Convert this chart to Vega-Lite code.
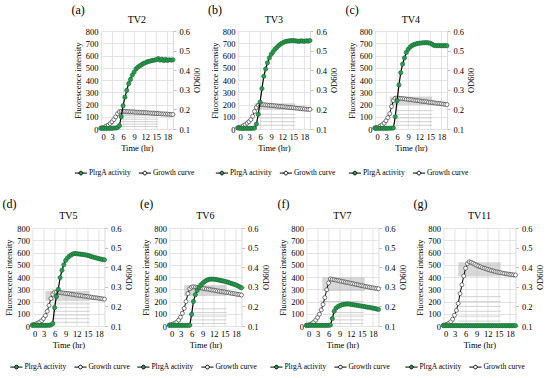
{
"$schema": "https://vega.github.io/schema/vega-lite/v6.json",
"padding": {"left": 2, "top": 4, "right": 2, "bottom": 2},
"datasets": {
"d": [
{"p":"TV2","t":0,"f":6,"o":0.105},{"p":"TV2","t":0.5,"f":5,"o":0.107},{"p":"TV2","t":1,"f":5,"o":0.11},{"p":"TV2","t":1.5,"f":6,"o":0.115},{"p":"TV2","t":2,"f":5,"o":0.12},{"p":"TV2","t":2.5,"f":6,"o":0.128},{"p":"TV2","t":3,"f":5,"o":0.137},{"p":"TV2","t":3.5,"f":8,"o":0.148},{"p":"TV2","t":4,"f":8,"o":0.162},{"p":"TV2","t":4.5,"f":12,"o":0.178},{"p":"TV2","t":5,"f":27,"o":0.188},{"p":"TV2","t":5.5,"f":100,"o":0.19},{"p":"TV2","t":6,"f":190,"o":0.19},{"p":"TV2","t":6.5,"f":260,"o":0.19},{"p":"TV2","t":7,"f":315,"o":0.189},{"p":"TV2","t":7.5,"f":370,"o":0.189},{"p":"TV2","t":8,"f":405,"o":0.188},{"p":"TV2","t":8.5,"f":440,"o":0.188},{"p":"TV2","t":9,"f":465,"o":0.187},{"p":"TV2","t":9.5,"f":490,"o":0.186},{"p":"TV2","t":10,"f":505,"o":0.186},{"p":"TV2","t":10.5,"f":515,"o":0.185},{"p":"TV2","t":11,"f":525,"o":0.185},{"p":"TV2","t":11.5,"f":535,"o":0.184},{"p":"TV2","t":12,"f":540,"o":0.183},{"p":"TV2","t":12.5,"f":548,"o":0.183},{"p":"TV2","t":13,"f":552,"o":0.182},{"p":"TV2","t":13.5,"f":556,"o":0.181},{"p":"TV2","t":14,"f":560,"o":0.181},{"p":"TV2","t":14.5,"f":562,"o":0.18},{"p":"TV2","t":15,"f":566,"o":0.179},{"p":"TV2","t":15.5,"f":575,"o":0.179},{"p":"TV2","t":16,"f":562,"o":0.178},{"p":"TV2","t":16.5,"f":570,"o":0.177},{"p":"TV2","t":17,"f":558,"o":0.177},{"p":"TV2","t":17.5,"f":568,"o":0.176},{"p":"TV2","t":18,"f":560,"o":0.176},{"p":"TV2","t":18.5,"f":565,"o":0.175},{"p":"TV2","t":19,"f":562,"o":0.174},{"p":"TV2","t":19.5,"f":565,"o":0.174},
{"p":"TV3","t":0,"f":8,"o":0.107},{"p":"TV3","t":0.5,"f":6,"o":0.109},{"p":"TV3","t":1,"f":5,"o":0.112},{"p":"TV3","t":1.5,"f":5,"o":0.117},{"p":"TV3","t":2,"f":5,"o":0.123},{"p":"TV3","t":2.5,"f":5,"o":0.13},{"p":"TV3","t":3,"f":5,"o":0.138},{"p":"TV3","t":3.5,"f":5,"o":0.148},{"p":"TV3","t":4,"f":6,"o":0.165},{"p":"TV3","t":4.5,"f":8,"o":0.19},{"p":"TV3","t":5,"f":40,"o":0.21},{"p":"TV3","t":5.5,"f":120,"o":0.222},{"p":"TV3","t":6,"f":220,"o":0.225},{"p":"TV3","t":6.5,"f":330,"o":0.225},{"p":"TV3","t":7,"f":430,"o":0.224},{"p":"TV3","t":7.5,"f":490,"o":0.223},{"p":"TV3","t":8,"f":540,"o":0.222},{"p":"TV3","t":8.5,"f":580,"o":0.221},{"p":"TV3","t":9,"f":610,"o":0.22},{"p":"TV3","t":9.5,"f":630,"o":0.219},{"p":"TV3","t":10,"f":650,"o":0.218},{"p":"TV3","t":10.5,"f":665,"o":0.217},{"p":"TV3","t":11,"f":680,"o":0.216},{"p":"TV3","t":11.5,"f":692,"o":0.215},{"p":"TV3","t":12,"f":702,"o":0.214},{"p":"TV3","t":12.5,"f":710,"o":0.213},{"p":"TV3","t":13,"f":715,"o":0.212},{"p":"TV3","t":13.5,"f":718,"o":0.211},{"p":"TV3","t":14,"f":720,"o":0.21},{"p":"TV3","t":14.5,"f":722,"o":0.209},{"p":"TV3","t":15,"f":722,"o":0.208},{"p":"TV3","t":15.5,"f":720,"o":0.207},{"p":"TV3","t":16,"f":718,"o":0.206},{"p":"TV3","t":16.5,"f":715,"o":0.205},{"p":"TV3","t":17,"f":720,"o":0.204},{"p":"TV3","t":17.5,"f":718,"o":0.203},{"p":"TV3","t":18,"f":716,"o":0.202},{"p":"TV3","t":18.5,"f":720,"o":0.201},{"p":"TV3","t":19,"f":718,"o":0.2},{"p":"TV3","t":19.5,"f":722,"o":0.2},
{"p":"TV4","t":0,"f":6,"o":0.106},{"p":"TV4","t":0.5,"f":5,"o":0.108},{"p":"TV4","t":1,"f":5,"o":0.111},{"p":"TV4","t":1.5,"f":5,"o":0.116},{"p":"TV4","t":2,"f":5,"o":0.122},{"p":"TV4","t":2.5,"f":6,"o":0.13},{"p":"TV4","t":3,"f":5,"o":0.142},{"p":"TV4","t":3.5,"f":6,"o":0.158},{"p":"TV4","t":4,"f":6,"o":0.178},{"p":"TV4","t":4.5,"f":7,"o":0.215},{"p":"TV4","t":5,"f":8,"o":0.245},{"p":"TV4","t":5.5,"f":100,"o":0.257},{"p":"TV4","t":6,"f":230,"o":0.258},{"p":"TV4","t":6.5,"f":360,"o":0.257},{"p":"TV4","t":7,"f":460,"o":0.256},{"p":"TV4","t":7.5,"f":530,"o":0.255},{"p":"TV4","t":8,"f":580,"o":0.254},{"p":"TV4","t":8.5,"f":625,"o":0.252},{"p":"TV4","t":9,"f":650,"o":0.251},{"p":"TV4","t":9.5,"f":668,"o":0.25},{"p":"TV4","t":10,"f":680,"o":0.249},{"p":"TV4","t":10.5,"f":688,"o":0.247},{"p":"TV4","t":11,"f":693,"o":0.246},{"p":"TV4","t":11.5,"f":698,"o":0.245},{"p":"TV4","t":12,"f":700,"o":0.244},{"p":"TV4","t":12.5,"f":702,"o":0.242},{"p":"TV4","t":13,"f":704,"o":0.241},{"p":"TV4","t":13.5,"f":705,"o":0.24},{"p":"TV4","t":14,"f":705,"o":0.239},{"p":"TV4","t":14.5,"f":703,"o":0.237},{"p":"TV4","t":15,"f":700,"o":0.236},{"p":"TV4","t":15.5,"f":692,"o":0.235},{"p":"TV4","t":16,"f":682,"o":0.234},{"p":"TV4","t":16.5,"f":680,"o":0.232},{"p":"TV4","t":17,"f":680,"o":0.231},{"p":"TV4","t":17.5,"f":681,"o":0.23},{"p":"TV4","t":18,"f":680,"o":0.229},{"p":"TV4","t":18.5,"f":680,"o":0.227},{"p":"TV4","t":19,"f":680,"o":0.226},{"p":"TV4","t":19.5,"f":680,"o":0.225},
{"p":"TV5","t":0,"f":5,"o":0.106},{"p":"TV5","t":0.5,"f":5,"o":0.108},{"p":"TV5","t":1,"f":5,"o":0.111},{"p":"TV5","t":1.5,"f":5,"o":0.115},{"p":"TV5","t":2,"f":5,"o":0.12},{"p":"TV5","t":2.5,"f":5,"o":0.127},{"p":"TV5","t":3,"f":5,"o":0.138},{"p":"TV5","t":3.5,"f":5,"o":0.153},{"p":"TV5","t":4,"f":6,"o":0.175},{"p":"TV5","t":4.5,"f":6,"o":0.205},{"p":"TV5","t":5,"f":8,"o":0.24},{"p":"TV5","t":5.5,"f":20,"o":0.262},{"p":"TV5","t":6,"f":150,"o":0.272},{"p":"TV5","t":6.5,"f":240,"o":0.273},{"p":"TV5","t":7,"f":300,"o":0.272},{"p":"TV5","t":7.5,"f":395,"o":0.271},{"p":"TV5","t":8,"f":455,"o":0.269},{"p":"TV5","t":8.5,"f":500,"o":0.268},{"p":"TV5","t":9,"f":535,"o":0.266},{"p":"TV5","t":9.5,"f":555,"o":0.265},{"p":"TV5","t":10,"f":570,"o":0.264},{"p":"TV5","t":10.5,"f":580,"o":0.262},{"p":"TV5","t":11,"f":588,"o":0.261},{"p":"TV5","t":11.5,"f":592,"o":0.259},{"p":"TV5","t":12,"f":590,"o":0.258},{"p":"TV5","t":12.5,"f":588,"o":0.257},{"p":"TV5","t":13,"f":586,"o":0.255},{"p":"TV5","t":13.5,"f":584,"o":0.254},{"p":"TV5","t":14,"f":582,"o":0.252},{"p":"TV5","t":14.5,"f":580,"o":0.251},{"p":"TV5","t":15,"f":576,"o":0.25},{"p":"TV5","t":15.5,"f":572,"o":0.248},{"p":"TV5","t":16,"f":566,"o":0.247},{"p":"TV5","t":16.5,"f":562,"o":0.245},{"p":"TV5","t":17,"f":558,"o":0.244},{"p":"TV5","t":17.5,"f":554,"o":0.243},{"p":"TV5","t":18,"f":550,"o":0.241},{"p":"TV5","t":18.5,"f":546,"o":0.24},{"p":"TV5","t":19,"f":542,"o":0.238},{"p":"TV5","t":19.5,"f":540,"o":0.237},
{"p":"TV6","t":0,"f":5,"o":0.105},{"p":"TV6","t":0.5,"f":5,"o":0.107},{"p":"TV6","t":1,"f":5,"o":0.11},{"p":"TV6","t":1.5,"f":5,"o":0.114},{"p":"TV6","t":2,"f":5,"o":0.12},{"p":"TV6","t":2.5,"f":5,"o":0.13},{"p":"TV6","t":3,"f":5,"o":0.145},{"p":"TV6","t":3.5,"f":5,"o":0.165},{"p":"TV6","t":4,"f":5,"o":0.19},{"p":"TV6","t":4.5,"f":5,"o":0.225},{"p":"TV6","t":5,"f":5,"o":0.265},{"p":"TV6","t":5.5,"f":6,"o":0.29},{"p":"TV6","t":6,"f":95,"o":0.298},{"p":"TV6","t":6.5,"f":200,"o":0.3},{"p":"TV6","t":7,"f":255,"o":0.299},{"p":"TV6","t":7.5,"f":290,"o":0.297},{"p":"TV6","t":8,"f":315,"o":0.296},{"p":"TV6","t":8.5,"f":335,"o":0.294},{"p":"TV6","t":9,"f":350,"o":0.292},{"p":"TV6","t":9.5,"f":362,"o":0.291},{"p":"TV6","t":10,"f":372,"o":0.289},{"p":"TV6","t":10.5,"f":378,"o":0.288},{"p":"TV6","t":11,"f":382,"o":0.286},{"p":"TV6","t":11.5,"f":383,"o":0.284},{"p":"TV6","t":12,"f":382,"o":0.283},{"p":"TV6","t":12.5,"f":380,"o":0.281},{"p":"TV6","t":13,"f":377,"o":0.279},{"p":"TV6","t":13.5,"f":374,"o":0.278},{"p":"TV6","t":14,"f":371,"o":0.276},{"p":"TV6","t":14.5,"f":368,"o":0.274},{"p":"TV6","t":15,"f":364,"o":0.273},{"p":"TV6","t":15.5,"f":360,"o":0.271},{"p":"TV6","t":16,"f":356,"o":0.27},{"p":"TV6","t":16.5,"f":350,"o":0.268},{"p":"TV6","t":17,"f":345,"o":0.266},{"p":"TV6","t":17.5,"f":340,"o":0.265},{"p":"TV6","t":18,"f":335,"o":0.263},{"p":"TV6","t":18.5,"f":328,"o":0.261},{"p":"TV6","t":19,"f":320,"o":0.26},{"p":"TV6","t":19.5,"f":312,"o":0.258},
{"p":"TV7","t":0,"f":5,"o":0.103},{"p":"TV7","t":0.5,"f":5,"o":0.105},{"p":"TV7","t":1,"f":5,"o":0.108},{"p":"TV7","t":1.5,"f":5,"o":0.113},{"p":"TV7","t":2,"f":5,"o":0.12},{"p":"TV7","t":2.5,"f":5,"o":0.13},{"p":"TV7","t":3,"f":5,"o":0.143},{"p":"TV7","t":3.5,"f":5,"o":0.16},{"p":"TV7","t":4,"f":5,"o":0.182},{"p":"TV7","t":4.5,"f":5,"o":0.21},{"p":"TV7","t":5,"f":5,"o":0.245},{"p":"TV7","t":5.5,"f":5,"o":0.285},{"p":"TV7","t":6,"f":5,"o":0.32},{"p":"TV7","t":6.5,"f":8,"o":0.34},{"p":"TV7","t":7,"f":60,"o":0.338},{"p":"TV7","t":7.5,"f":120,"o":0.336},{"p":"TV7","t":8,"f":145,"o":0.334},{"p":"TV7","t":8.5,"f":158,"o":0.332},{"p":"TV7","t":9,"f":166,"o":0.33},{"p":"TV7","t":9.5,"f":172,"o":0.328},{"p":"TV7","t":10,"f":176,"o":0.326},{"p":"TV7","t":10.5,"f":178,"o":0.324},{"p":"TV7","t":11,"f":180,"o":0.322},{"p":"TV7","t":11.5,"f":179,"o":0.32},{"p":"TV7","t":12,"f":177,"o":0.318},{"p":"TV7","t":12.5,"f":175,"o":0.316},{"p":"TV7","t":13,"f":172,"o":0.314},{"p":"TV7","t":13.5,"f":170,"o":0.312},{"p":"TV7","t":14,"f":167,"o":0.31},{"p":"TV7","t":14.5,"f":165,"o":0.308},{"p":"TV7","t":15,"f":162,"o":0.306},{"p":"TV7","t":15.5,"f":160,"o":0.304},{"p":"TV7","t":16,"f":157,"o":0.302},{"p":"TV7","t":16.5,"f":154,"o":0.3},{"p":"TV7","t":17,"f":152,"o":0.298},{"p":"TV7","t":17.5,"f":149,"o":0.296},{"p":"TV7","t":18,"f":146,"o":0.294},{"p":"TV7","t":18.5,"f":143,"o":0.293},{"p":"TV7","t":19,"f":139,"o":0.291},{"p":"TV7","t":19.5,"f":135,"o":0.29},
{"p":"TV11","t":0,"f":3,"o":0.104},{"p":"TV11","t":0.5,"f":3,"o":0.106},{"p":"TV11","t":1,"f":3,"o":0.109},{"p":"TV11","t":1.5,"f":3,"o":0.114},{"p":"TV11","t":2,"f":3,"o":0.122},{"p":"TV11","t":2.5,"f":3,"o":0.135},{"p":"TV11","t":3,"f":3,"o":0.155},{"p":"TV11","t":3.5,"f":3,"o":0.18},{"p":"TV11","t":4,"f":3,"o":0.215},{"p":"TV11","t":4.5,"f":3,"o":0.265},{"p":"TV11","t":5,"f":3,"o":0.31},{"p":"TV11","t":5.5,"f":3,"o":0.355},{"p":"TV11","t":6,"f":3,"o":0.395},{"p":"TV11","t":6.5,"f":3,"o":0.418},{"p":"TV11","t":7,"f":3,"o":0.428},{"p":"TV11","t":7.5,"f":3,"o":0.425},{"p":"TV11","t":8,"f":3,"o":0.42},{"p":"TV11","t":8.5,"f":3,"o":0.415},{"p":"TV11","t":9,"f":3,"o":0.41},{"p":"TV11","t":9.5,"f":3,"o":0.406},{"p":"TV11","t":10,"f":3,"o":0.402},{"p":"TV11","t":10.5,"f":3,"o":0.398},{"p":"TV11","t":11,"f":3,"o":0.395},{"p":"TV11","t":11.5,"f":3,"o":0.392},{"p":"TV11","t":12,"f":3,"o":0.389},{"p":"TV11","t":12.5,"f":3,"o":0.386},{"p":"TV11","t":13,"f":3,"o":0.383},{"p":"TV11","t":13.5,"f":3,"o":0.381},{"p":"TV11","t":14,"f":3,"o":0.378},{"p":"TV11","t":14.5,"f":3,"o":0.376},{"p":"TV11","t":15,"f":3,"o":0.374},{"p":"TV11","t":15.5,"f":3,"o":0.372},{"p":"TV11","t":16,"f":3,"o":0.37},{"p":"TV11","t":16.5,"f":3,"o":0.368},{"p":"TV11","t":17,"f":3,"o":0.366},{"p":"TV11","t":17.5,"f":3,"o":0.365},{"p":"TV11","t":18,"f":3,"o":0.363},{"p":"TV11","t":18.5,"f":3,"o":0.362},{"p":"TV11","t":19,"f":3,"o":0.361},{"p":"TV11","t":19.5,"f":3,"o":0.36}
],
"box": [
{"p":"TV2","x1":4.5,"x2":15.5,"y1":105,"y2":150},
{"p":"TV3","x1":4.5,"x2":15.5,"y1":155,"y2":210},
{"p":"TV4","x1":4,"x2":15.5,"y1":195,"y2":265},
{"p":"TV5","x1":3.5,"x2":15.5,"y1":205,"y2":285},
{"p":"TV6","x1":4,"x2":15.5,"y1":245,"y2":335},
{"p":"TV7","x1":4.3,"x2":15.8,"y1":285,"y2":398},
{"p":"TV11","x1":4,"x2":15.5,"y1":405,"y2":520}
],
"ln": [
{"p":"TV2","x1":5.5,"x2":15.5,"y":20},{"p":"TV2","x1":5.5,"x2":15.5,"y":40},{"p":"TV2","x1":5.5,"x2":15.5,"y":60},{"p":"TV2","x1":5.5,"x2":15.5,"y":80},
{"p":"TV3","x1":5.5,"x2":15.5,"y":30},{"p":"TV3","x1":5.5,"x2":15.5,"y":60},{"p":"TV3","x1":5.5,"x2":15.5,"y":90},{"p":"TV3","x1":5.5,"x2":15.5,"y":120},
{"p":"TV4","x1":5.5,"x2":15.5,"y":30},{"p":"TV4","x1":5.5,"x2":15.5,"y":60},{"p":"TV4","x1":5.5,"x2":15.5,"y":90},{"p":"TV4","x1":5.5,"x2":15.5,"y":120},{"p":"TV4","x1":5.5,"x2":15.5,"y":150},
{"p":"TV5","x1":5.5,"x2":15.5,"y":30},{"p":"TV5","x1":5.5,"x2":15.5,"y":60},{"p":"TV5","x1":5.5,"x2":15.5,"y":90},{"p":"TV5","x1":5.5,"x2":15.5,"y":120},{"p":"TV5","x1":5.5,"x2":15.5,"y":150},{"p":"TV5","x1":5.5,"x2":15.5,"y":180},
{"p":"TV6","x1":6,"x2":15.5,"y":20},{"p":"TV6","x1":6,"x2":15.5,"y":50},{"p":"TV6","x1":6,"x2":15.5,"y":80},{"p":"TV6","x1":6,"x2":15.5,"y":110},{"p":"TV6","x1":6,"x2":15.5,"y":140},
{"p":"TV7","x1":7,"x2":15.5,"y":20},{"p":"TV7","x1":7,"x2":15.5,"y":50},{"p":"TV7","x1":7,"x2":15.5,"y":80},{"p":"TV7","x1":7,"x2":15.5,"y":110},{"p":"TV7","x1":3.5,"x2":15.5,"y":200},
{"p":"TV11","x1":4,"x2":15.5,"y":40},{"p":"TV11","x1":4,"x2":15.5,"y":80},{"p":"TV11","x1":4,"x2":15.5,"y":120},{"p":"TV11","x1":4,"x2":15.5,"y":160},{"p":"TV11","x1":4,"x2":15.5,"y":200},{"p":"TV11","x1":4,"x2":15.5,"y":240}
]
},
"vconcat": [
{"hconcat": [
{"width":72,"height":98,"layer":[
 {"layer":[
  {"data":{"name":"box"},"transform":[{"filter":"datum.p=='TV2'"}],"mark":{"type":"rect","fill":"#a9a9a9","opacity":0.45},"encoding":{"x":{"field":"x1","type":"quantitative","scale":{"domain":[0,19.5],"nice":false},"title":"Time (hr)"},"x2":{"field":"x2"},"y":{"field":"y1","type":"quantitative","scale":{"domain":[0,800],"nice":false},"axis":null},"y2":{"field":"y2"}}},
  {"data":{"name":"ln"},"transform":[{"filter":"datum.p=='TV2'"}],"mark":{"type":"rule","stroke":"#c6c6c6","strokeWidth":0.8},"encoding":{"x":{"field":"x1","type":"quantitative","scale":{"domain":[0,19.5],"nice":false},"title":"Time (hr)"},"x2":{"field":"x2"},"y":{"field":"y","type":"quantitative","scale":{"domain":[0,800],"nice":false},"axis":null}}},
  {"data":{"values":[{"s":"(a)"}]},"mark":{"type":"text","fontSize":12,"baseline":"middle","align":"center"},"encoding":{"x":{"datum":-6.2,"type":"quantitative","scale":{"domain":[0,19.5],"nice":false},"title":"Time (hr)"},"y":{"datum":970,"type":"quantitative","scale":{"domain":[0,800],"nice":false},"axis":null},"text":{"field":"s"}}},
  {"data":{"values":[{"s":"TV2"}]},"mark":{"type":"text","fontSize":10,"baseline":"middle","align":"center"},"encoding":{"x":{"datum":9.75,"type":"quantitative","scale":{"domain":[0,19.5],"nice":false},"title":"Time (hr)"},"y":{"datum":890,"type":"quantitative","scale":{"domain":[0,800],"nice":false},"axis":null},"text":{"field":"s"}}}
 ]},
 {"data":{"name":"d"},"transform":[{"filter":"datum.p=='TV2'"}],"layer":[
  {"mark":{"type":"line","stroke":"#000","strokeWidth":1},"encoding":{"x":{"field":"t","type":"quantitative","scale":{"domain":[0,19.5],"nice":false},"title":"Time (hr)","axis":{"values":[0,3,6,9,12,15,18],"tickCount":20,"grid":true,"labelOverlap":false}},"y":{"field":"o","type":"quantitative","scale":{"domain":[0.1,0.6],"nice":false,"zero":false},"title":"OD600","axis":{"orient":"right","values":[0.1,0.2,0.3,0.4,0.5,0.6],"tickCount":20,"format":".1f","grid":false,"domain":true,"domainColor":"#d9d9d9","ticks":true,"tickColor":"#bfbfbf","tickSize":3,"titleAngle":270,"titleBaseline":"top","labelOverlap":false}}}},
  {"mark":{"type":"point","filled":true,"size":16,"stroke":"#404040","strokeWidth":0.7,"opacity":1},"encoding":{"x":{"field":"t","type":"quantitative","scale":{"domain":[0,19.5],"nice":false},"title":"Time (hr)"},"y":{"field":"o","type":"quantitative","scale":{"domain":[0.1,0.6],"nice":false,"zero":false},"title":"OD600"},"fill":{"datum":"Growth curve","type":"nominal","scale":{"domain":["PlrgA activity","Growth curve"],"range":["#23a24d","#ffffff"]},"legend":{"title":null,"orient":"none","legendX":-27,"legendY":135,"direction":"horizontal","symbolType":"M-1,0L-0.3,0M0.3,0L1,0M-0.3,0A0.3,0.3,0,1,1,0.3,0A0.3,0.3,0,1,1,-0.3,0Z","symbolSize":150,"symbolStrokeColor":"#000","symbolStrokeWidth":1,"labelFontSize":7.5,"columnPadding":4,"labelOffset":1}}}}
 ]},
 {"data":{"name":"d"},"transform":[{"filter":"datum.p=='TV2'"}],"layer":[
  {"mark":{"type":"line","stroke":"#000","strokeWidth":1.2},"encoding":{"x":{"field":"t","type":"quantitative","scale":{"domain":[0,19.5],"nice":false},"title":"Time (hr)"},"y":{"field":"f","type":"quantitative","scale":{"domain":[0,800],"nice":false},"title":"Fluorescence intensity","axis":{"values":[0,100,200,300,400,500,600,700,800],"tickCount":20,"grid":true,"labelOverlap":false}}}},
  {"mark":{"type":"point","filled":true,"size":18,"stroke":"#1b5e2f","strokeWidth":0.6,"opacity":1},"encoding":{"x":{"field":"t","type":"quantitative","scale":{"domain":[0,19.5],"nice":false},"title":"Time (hr)"},"y":{"field":"f","type":"quantitative","scale":{"domain":[0,800],"nice":false},"title":"Fluorescence intensity"},"fill":{"datum":"PlrgA activity","type":"nominal","scale":{"domain":["PlrgA activity","Growth curve"],"range":["#23a24d","#ffffff"]},"legend":{"title":null,"orient":"none","legendX":-27,"legendY":135,"direction":"horizontal","symbolType":"M-1,0L-0.3,0M0.3,0L1,0M-0.3,0A0.3,0.3,0,1,1,0.3,0A0.3,0.3,0,1,1,-0.3,0Z","symbolSize":150,"symbolStrokeColor":"#000","symbolStrokeWidth":1,"labelFontSize":7.5,"columnPadding":4,"labelOffset":1}}}}
 ]}
],"resolve":{"scale":{"y":"independent"}}},
{"width":72,"height":98,"layer":[
 {"layer":[
  {"data":{"name":"box"},"transform":[{"filter":"datum.p=='TV3'"}],"mark":{"type":"rect","fill":"#a9a9a9","opacity":0.45},"encoding":{"x":{"field":"x1","type":"quantitative","scale":{"domain":[0,19.5],"nice":false},"title":"Time (hr)"},"x2":{"field":"x2"},"y":{"field":"y1","type":"quantitative","scale":{"domain":[0,800],"nice":false},"axis":null},"y2":{"field":"y2"}}},
  {"data":{"name":"ln"},"transform":[{"filter":"datum.p=='TV3'"}],"mark":{"type":"rule","stroke":"#c6c6c6","strokeWidth":0.8},"encoding":{"x":{"field":"x1","type":"quantitative","scale":{"domain":[0,19.5],"nice":false},"title":"Time (hr)"},"x2":{"field":"x2"},"y":{"field":"y","type":"quantitative","scale":{"domain":[0,800],"nice":false},"axis":null}}},
  {"data":{"values":[{"s":"(b)"}]},"mark":{"type":"text","fontSize":12,"baseline":"middle","align":"center"},"encoding":{"x":{"datum":-6.2,"type":"quantitative","scale":{"domain":[0,19.5],"nice":false},"title":"Time (hr)"},"y":{"datum":970,"type":"quantitative","scale":{"domain":[0,800],"nice":false},"axis":null},"text":{"field":"s"}}},
  {"data":{"values":[{"s":"TV3"}]},"mark":{"type":"text","fontSize":10,"baseline":"middle","align":"center"},"encoding":{"x":{"datum":9.75,"type":"quantitative","scale":{"domain":[0,19.5],"nice":false},"title":"Time (hr)"},"y":{"datum":890,"type":"quantitative","scale":{"domain":[0,800],"nice":false},"axis":null},"text":{"field":"s"}}}
 ]},
 {"data":{"name":"d"},"transform":[{"filter":"datum.p=='TV3'"}],"layer":[
  {"mark":{"type":"line","stroke":"#000","strokeWidth":1},"encoding":{"x":{"field":"t","type":"quantitative","scale":{"domain":[0,19.5],"nice":false},"title":"Time (hr)","axis":{"values":[0,3,6,9,12,15,18],"tickCount":20,"grid":true,"labelOverlap":false}},"y":{"field":"o","type":"quantitative","scale":{"domain":[0.1,0.6],"nice":false,"zero":false},"title":"OD600","axis":{"orient":"right","values":[0.1,0.2,0.3,0.4,0.5,0.6],"tickCount":20,"format":".1f","grid":false,"domain":true,"domainColor":"#d9d9d9","ticks":true,"tickColor":"#bfbfbf","tickSize":3,"titleAngle":270,"titleBaseline":"top","labelOverlap":false}}}},
  {"mark":{"type":"point","filled":true,"size":16,"stroke":"#404040","strokeWidth":0.7,"opacity":1},"encoding":{"x":{"field":"t","type":"quantitative","scale":{"domain":[0,19.5],"nice":false},"title":"Time (hr)"},"y":{"field":"o","type":"quantitative","scale":{"domain":[0.1,0.6],"nice":false,"zero":false},"title":"OD600"},"fill":{"datum":"Growth curve","type":"nominal","scale":{"domain":["PlrgA activity","Growth curve"],"range":["#23a24d","#ffffff"]},"legend":{"title":null,"orient":"none","legendX":-23,"legendY":135,"direction":"horizontal","symbolType":"M-1,0L-0.3,0M0.3,0L1,0M-0.3,0A0.3,0.3,0,1,1,0.3,0A0.3,0.3,0,1,1,-0.3,0Z","symbolSize":150,"symbolStrokeColor":"#000","symbolStrokeWidth":1,"labelFontSize":7.5,"columnPadding":4,"labelOffset":1}}}}
 ]},
 {"data":{"name":"d"},"transform":[{"filter":"datum.p=='TV3'"}],"layer":[
  {"mark":{"type":"line","stroke":"#000","strokeWidth":1.2},"encoding":{"x":{"field":"t","type":"quantitative","scale":{"domain":[0,19.5],"nice":false},"title":"Time (hr)"},"y":{"field":"f","type":"quantitative","scale":{"domain":[0,800],"nice":false},"title":"Fluorescence intensity","axis":{"values":[0,100,200,300,400,500,600,700,800],"tickCount":20,"grid":true,"labelOverlap":false}}}},
  {"mark":{"type":"point","filled":true,"size":18,"stroke":"#1b5e2f","strokeWidth":0.6,"opacity":1},"encoding":{"x":{"field":"t","type":"quantitative","scale":{"domain":[0,19.5],"nice":false},"title":"Time (hr)"},"y":{"field":"f","type":"quantitative","scale":{"domain":[0,800],"nice":false},"title":"Fluorescence intensity"},"fill":{"datum":"PlrgA activity","type":"nominal","scale":{"domain":["PlrgA activity","Growth curve"],"range":["#23a24d","#ffffff"]},"legend":{"title":null,"orient":"none","legendX":-23,"legendY":135,"direction":"horizontal","symbolType":"M-1,0L-0.3,0M0.3,0L1,0M-0.3,0A0.3,0.3,0,1,1,0.3,0A0.3,0.3,0,1,1,-0.3,0Z","symbolSize":150,"symbolStrokeColor":"#000","symbolStrokeWidth":1,"labelFontSize":7.5,"columnPadding":4,"labelOffset":1}}}}
 ]}
],"resolve":{"scale":{"y":"independent"}}},
{"width":72,"height":98,"layer":[
 {"layer":[
  {"data":{"name":"box"},"transform":[{"filter":"datum.p=='TV4'"}],"mark":{"type":"rect","fill":"#a9a9a9","opacity":0.45},"encoding":{"x":{"field":"x1","type":"quantitative","scale":{"domain":[0,19.5],"nice":false},"title":"Time (hr)"},"x2":{"field":"x2"},"y":{"field":"y1","type":"quantitative","scale":{"domain":[0,800],"nice":false},"axis":null},"y2":{"field":"y2"}}},
  {"data":{"name":"ln"},"transform":[{"filter":"datum.p=='TV4'"}],"mark":{"type":"rule","stroke":"#c6c6c6","strokeWidth":0.8},"encoding":{"x":{"field":"x1","type":"quantitative","scale":{"domain":[0,19.5],"nice":false},"title":"Time (hr)"},"x2":{"field":"x2"},"y":{"field":"y","type":"quantitative","scale":{"domain":[0,800],"nice":false},"axis":null}}},
  {"data":{"values":[{"s":"(c)"}]},"mark":{"type":"text","fontSize":12,"baseline":"middle","align":"center"},"encoding":{"x":{"datum":-6.2,"type":"quantitative","scale":{"domain":[0,19.5],"nice":false},"title":"Time (hr)"},"y":{"datum":970,"type":"quantitative","scale":{"domain":[0,800],"nice":false},"axis":null},"text":{"field":"s"}}},
  {"data":{"values":[{"s":"TV4"}]},"mark":{"type":"text","fontSize":10,"baseline":"middle","align":"center"},"encoding":{"x":{"datum":9.75,"type":"quantitative","scale":{"domain":[0,19.5],"nice":false},"title":"Time (hr)"},"y":{"datum":890,"type":"quantitative","scale":{"domain":[0,800],"nice":false},"axis":null},"text":{"field":"s"}}}
 ]},
 {"data":{"name":"d"},"transform":[{"filter":"datum.p=='TV4'"}],"layer":[
  {"mark":{"type":"line","stroke":"#000","strokeWidth":1},"encoding":{"x":{"field":"t","type":"quantitative","scale":{"domain":[0,19.5],"nice":false},"title":"Time (hr)","axis":{"values":[0,3,6,9,12,15,18],"tickCount":20,"grid":true,"labelOverlap":false}},"y":{"field":"o","type":"quantitative","scale":{"domain":[0.1,0.6],"nice":false,"zero":false},"title":"OD600","axis":{"orient":"right","values":[0.1,0.2,0.3,0.4,0.5,0.6],"tickCount":20,"format":".1f","grid":false,"domain":true,"domainColor":"#d9d9d9","ticks":true,"tickColor":"#bfbfbf","tickSize":3,"titleAngle":270,"titleBaseline":"top","labelOverlap":false}}}},
  {"mark":{"type":"point","filled":true,"size":16,"stroke":"#404040","strokeWidth":0.7,"opacity":1},"encoding":{"x":{"field":"t","type":"quantitative","scale":{"domain":[0,19.5],"nice":false},"title":"Time (hr)"},"y":{"field":"o","type":"quantitative","scale":{"domain":[0.1,0.6],"nice":false,"zero":false},"title":"OD600"},"fill":{"datum":"Growth curve","type":"nominal","scale":{"domain":["PlrgA activity","Growth curve"],"range":["#23a24d","#ffffff"]},"legend":{"title":null,"orient":"none","legendX":-27,"legendY":135,"direction":"horizontal","symbolType":"M-1,0L-0.3,0M0.3,0L1,0M-0.3,0A0.3,0.3,0,1,1,0.3,0A0.3,0.3,0,1,1,-0.3,0Z","symbolSize":150,"symbolStrokeColor":"#000","symbolStrokeWidth":1,"labelFontSize":7.5,"columnPadding":4,"labelOffset":1}}}}
 ]},
 {"data":{"name":"d"},"transform":[{"filter":"datum.p=='TV4'"}],"layer":[
  {"mark":{"type":"line","stroke":"#000","strokeWidth":1.2},"encoding":{"x":{"field":"t","type":"quantitative","scale":{"domain":[0,19.5],"nice":false},"title":"Time (hr)"},"y":{"field":"f","type":"quantitative","scale":{"domain":[0,800],"nice":false},"title":"Fluorescence intensity","axis":{"values":[0,100,200,300,400,500,600,700,800],"tickCount":20,"grid":true,"labelOverlap":false}}}},
  {"mark":{"type":"point","filled":true,"size":18,"stroke":"#1b5e2f","strokeWidth":0.6,"opacity":1},"encoding":{"x":{"field":"t","type":"quantitative","scale":{"domain":[0,19.5],"nice":false},"title":"Time (hr)"},"y":{"field":"f","type":"quantitative","scale":{"domain":[0,800],"nice":false},"title":"Fluorescence intensity"},"fill":{"datum":"PlrgA activity","type":"nominal","scale":{"domain":["PlrgA activity","Growth curve"],"range":["#23a24d","#ffffff"]},"legend":{"title":null,"orient":"none","legendX":-27,"legendY":135,"direction":"horizontal","symbolType":"M-1,0L-0.3,0M0.3,0L1,0M-0.3,0A0.3,0.3,0,1,1,0.3,0A0.3,0.3,0,1,1,-0.3,0Z","symbolSize":150,"symbolStrokeColor":"#000","symbolStrokeWidth":1,"labelFontSize":7.5,"columnPadding":4,"labelOffset":1}}}}
 ]}
],"resolve":{"scale":{"y":"independent"}}}
],"spacing":65,"bounds":"flush","resolve":{"scale":{"fill":"independent"},"legend":{"fill":"independent"}}},
{"hconcat": [
{"width":72,"height":98,"layer":[
 {"layer":[
  {"data":{"name":"box"},"transform":[{"filter":"datum.p=='TV5'"}],"mark":{"type":"rect","fill":"#a9a9a9","opacity":0.45},"encoding":{"x":{"field":"x1","type":"quantitative","scale":{"domain":[0,19.5],"nice":false},"title":"Time (hr)"},"x2":{"field":"x2"},"y":{"field":"y1","type":"quantitative","scale":{"domain":[0,800],"nice":false},"axis":null},"y2":{"field":"y2"}}},
  {"data":{"name":"ln"},"transform":[{"filter":"datum.p=='TV5'"}],"mark":{"type":"rule","stroke":"#c6c6c6","strokeWidth":0.8},"encoding":{"x":{"field":"x1","type":"quantitative","scale":{"domain":[0,19.5],"nice":false},"title":"Time (hr)"},"x2":{"field":"x2"},"y":{"field":"y","type":"quantitative","scale":{"domain":[0,800],"nice":false},"axis":null}}},
  {"data":{"values":[{"s":"(d)"}]},"mark":{"type":"text","fontSize":12,"baseline":"middle","align":"center"},"encoding":{"x":{"datum":-6.2,"type":"quantitative","scale":{"domain":[0,19.5],"nice":false},"title":"Time (hr)"},"y":{"datum":995,"type":"quantitative","scale":{"domain":[0,800],"nice":false},"axis":null},"text":{"field":"s"}}},
  {"data":{"values":[{"s":"TV5"}]},"mark":{"type":"text","fontSize":10,"baseline":"middle","align":"center"},"encoding":{"x":{"datum":9.75,"type":"quantitative","scale":{"domain":[0,19.5],"nice":false},"title":"Time (hr)"},"y":{"datum":895,"type":"quantitative","scale":{"domain":[0,800],"nice":false},"axis":null},"text":{"field":"s"}}}
 ]},
 {"data":{"name":"d"},"transform":[{"filter":"datum.p=='TV5'"}],"layer":[
  {"mark":{"type":"line","stroke":"#000","strokeWidth":1},"encoding":{"x":{"field":"t","type":"quantitative","scale":{"domain":[0,19.5],"nice":false},"title":"Time (hr)","axis":{"values":[0,3,6,9,12,15,18],"tickCount":20,"grid":true,"labelOverlap":false}},"y":{"field":"o","type":"quantitative","scale":{"domain":[0.1,0.6],"nice":false,"zero":false},"title":"OD600","axis":{"orient":"right","values":[0.1,0.2,0.3,0.4,0.5,0.6],"tickCount":20,"format":".1f","grid":false,"domain":true,"domainColor":"#d9d9d9","ticks":true,"tickColor":"#bfbfbf","tickSize":3,"titleAngle":270,"titleBaseline":"top","labelOverlap":false}}}},
  {"mark":{"type":"point","filled":true,"size":16,"stroke":"#404040","strokeWidth":0.7,"opacity":1},"encoding":{"x":{"field":"t","type":"quantitative","scale":{"domain":[0,19.5],"nice":false},"title":"Time (hr)"},"y":{"field":"o","type":"quantitative","scale":{"domain":[0.1,0.6],"nice":false,"zero":false},"title":"OD600"},"fill":{"datum":"Growth curve","type":"nominal","scale":{"domain":["PlrgA activity","Growth curve"],"range":["#23a24d","#ffffff"]},"legend":{"title":null,"orient":"none","legendX":-23,"legendY":132,"direction":"horizontal","symbolType":"M-1,0L-0.3,0M0.3,0L1,0M-0.3,0A0.3,0.3,0,1,1,0.3,0A0.3,0.3,0,1,1,-0.3,0Z","symbolSize":150,"symbolStrokeColor":"#000","symbolStrokeWidth":1,"labelFontSize":7.5,"columnPadding":4,"labelOffset":1}}}}
 ]},
 {"data":{"name":"d"},"transform":[{"filter":"datum.p=='TV5'"}],"layer":[
  {"mark":{"type":"line","stroke":"#000","strokeWidth":1.2},"encoding":{"x":{"field":"t","type":"quantitative","scale":{"domain":[0,19.5],"nice":false},"title":"Time (hr)"},"y":{"field":"f","type":"quantitative","scale":{"domain":[0,800],"nice":false},"title":"Fluorescence intensity","axis":{"values":[0,100,200,300,400,500,600,700,800],"tickCount":20,"grid":true,"labelOverlap":false}}}},
  {"mark":{"type":"point","filled":true,"size":18,"stroke":"#1b5e2f","strokeWidth":0.6,"opacity":1},"encoding":{"x":{"field":"t","type":"quantitative","scale":{"domain":[0,19.5],"nice":false},"title":"Time (hr)"},"y":{"field":"f","type":"quantitative","scale":{"domain":[0,800],"nice":false},"title":"Fluorescence intensity"},"fill":{"datum":"PlrgA activity","type":"nominal","scale":{"domain":["PlrgA activity","Growth curve"],"range":["#23a24d","#ffffff"]},"legend":{"title":null,"orient":"none","legendX":-23,"legendY":132,"direction":"horizontal","symbolType":"M-1,0L-0.3,0M0.3,0L1,0M-0.3,0A0.3,0.3,0,1,1,0.3,0A0.3,0.3,0,1,1,-0.3,0Z","symbolSize":150,"symbolStrokeColor":"#000","symbolStrokeWidth":1,"labelFontSize":7.5,"columnPadding":4,"labelOffset":1}}}}
 ]}
],"resolve":{"scale":{"y":"independent"}}},
{"width":72,"height":98,"layer":[
 {"layer":[
  {"data":{"name":"box"},"transform":[{"filter":"datum.p=='TV6'"}],"mark":{"type":"rect","fill":"#a9a9a9","opacity":0.45},"encoding":{"x":{"field":"x1","type":"quantitative","scale":{"domain":[0,19.5],"nice":false},"title":"Time (hr)"},"x2":{"field":"x2"},"y":{"field":"y1","type":"quantitative","scale":{"domain":[0,800],"nice":false},"axis":null},"y2":{"field":"y2"}}},
  {"data":{"name":"ln"},"transform":[{"filter":"datum.p=='TV6'"}],"mark":{"type":"rule","stroke":"#c6c6c6","strokeWidth":0.8},"encoding":{"x":{"field":"x1","type":"quantitative","scale":{"domain":[0,19.5],"nice":false},"title":"Time (hr)"},"x2":{"field":"x2"},"y":{"field":"y","type":"quantitative","scale":{"domain":[0,800],"nice":false},"axis":null}}},
  {"data":{"values":[{"s":"(e)"}]},"mark":{"type":"text","fontSize":12,"baseline":"middle","align":"center"},"encoding":{"x":{"datum":-6.2,"type":"quantitative","scale":{"domain":[0,19.5],"nice":false},"title":"Time (hr)"},"y":{"datum":995,"type":"quantitative","scale":{"domain":[0,800],"nice":false},"axis":null},"text":{"field":"s"}}},
  {"data":{"values":[{"s":"TV6"}]},"mark":{"type":"text","fontSize":10,"baseline":"middle","align":"center"},"encoding":{"x":{"datum":9.75,"type":"quantitative","scale":{"domain":[0,19.5],"nice":false},"title":"Time (hr)"},"y":{"datum":895,"type":"quantitative","scale":{"domain":[0,800],"nice":false},"axis":null},"text":{"field":"s"}}}
 ]},
 {"data":{"name":"d"},"transform":[{"filter":"datum.p=='TV6'"}],"layer":[
  {"mark":{"type":"line","stroke":"#000","strokeWidth":1},"encoding":{"x":{"field":"t","type":"quantitative","scale":{"domain":[0,19.5],"nice":false},"title":"Time (hr)","axis":{"values":[0,3,6,9,12,15,18],"tickCount":20,"grid":true,"labelOverlap":false}},"y":{"field":"o","type":"quantitative","scale":{"domain":[0.1,0.6],"nice":false,"zero":false},"title":"OD600","axis":{"orient":"right","values":[0.1,0.2,0.3,0.4,0.5,0.6],"tickCount":20,"format":".1f","grid":false,"domain":true,"domainColor":"#d9d9d9","ticks":true,"tickColor":"#bfbfbf","tickSize":3,"titleAngle":270,"titleBaseline":"top","labelOverlap":false}}}},
  {"mark":{"type":"point","filled":true,"size":16,"stroke":"#404040","strokeWidth":0.7,"opacity":1},"encoding":{"x":{"field":"t","type":"quantitative","scale":{"domain":[0,19.5],"nice":false},"title":"Time (hr)"},"y":{"field":"o","type":"quantitative","scale":{"domain":[0.1,0.6],"nice":false,"zero":false},"title":"OD600"},"fill":{"datum":"Growth curve","type":"nominal","scale":{"domain":["PlrgA activity","Growth curve"],"range":["#23a24d","#ffffff"]},"legend":{"title":null,"orient":"none","legendX":-33,"legendY":132,"direction":"horizontal","symbolType":"M-1,0L-0.3,0M0.3,0L1,0M-0.3,0A0.3,0.3,0,1,1,0.3,0A0.3,0.3,0,1,1,-0.3,0Z","symbolSize":150,"symbolStrokeColor":"#000","symbolStrokeWidth":1,"labelFontSize":7.5,"columnPadding":4,"labelOffset":1}}}}
 ]},
 {"data":{"name":"d"},"transform":[{"filter":"datum.p=='TV6'"}],"layer":[
  {"mark":{"type":"line","stroke":"#000","strokeWidth":1.2},"encoding":{"x":{"field":"t","type":"quantitative","scale":{"domain":[0,19.5],"nice":false},"title":"Time (hr)"},"y":{"field":"f","type":"quantitative","scale":{"domain":[0,800],"nice":false},"title":"Fluorescence intensity","axis":{"values":[0,100,200,300,400,500,600,700,800],"tickCount":20,"grid":true,"labelOverlap":false}}}},
  {"mark":{"type":"point","filled":true,"size":18,"stroke":"#1b5e2f","strokeWidth":0.6,"opacity":1},"encoding":{"x":{"field":"t","type":"quantitative","scale":{"domain":[0,19.5],"nice":false},"title":"Time (hr)"},"y":{"field":"f","type":"quantitative","scale":{"domain":[0,800],"nice":false},"title":"Fluorescence intensity"},"fill":{"datum":"PlrgA activity","type":"nominal","scale":{"domain":["PlrgA activity","Growth curve"],"range":["#23a24d","#ffffff"]},"legend":{"title":null,"orient":"none","legendX":-33,"legendY":132,"direction":"horizontal","symbolType":"M-1,0L-0.3,0M0.3,0L1,0M-0.3,0A0.3,0.3,0,1,1,0.3,0A0.3,0.3,0,1,1,-0.3,0Z","symbolSize":150,"symbolStrokeColor":"#000","symbolStrokeWidth":1,"labelFontSize":7.5,"columnPadding":4,"labelOffset":1}}}}
 ]}
],"resolve":{"scale":{"y":"independent"}}},
{"width":72,"height":98,"layer":[
 {"layer":[
  {"data":{"name":"box"},"transform":[{"filter":"datum.p=='TV7'"}],"mark":{"type":"rect","fill":"#a9a9a9","opacity":0.45},"encoding":{"x":{"field":"x1","type":"quantitative","scale":{"domain":[0,19.5],"nice":false},"title":"Time (hr)"},"x2":{"field":"x2"},"y":{"field":"y1","type":"quantitative","scale":{"domain":[0,800],"nice":false},"axis":null},"y2":{"field":"y2"}}},
  {"data":{"name":"ln"},"transform":[{"filter":"datum.p=='TV7'"}],"mark":{"type":"rule","stroke":"#c6c6c6","strokeWidth":0.8},"encoding":{"x":{"field":"x1","type":"quantitative","scale":{"domain":[0,19.5],"nice":false},"title":"Time (hr)"},"x2":{"field":"x2"},"y":{"field":"y","type":"quantitative","scale":{"domain":[0,800],"nice":false},"axis":null}}},
  {"data":{"values":[{"s":"(f)"}]},"mark":{"type":"text","fontSize":12,"baseline":"middle","align":"center"},"encoding":{"x":{"datum":-6.2,"type":"quantitative","scale":{"domain":[0,19.5],"nice":false},"title":"Time (hr)"},"y":{"datum":995,"type":"quantitative","scale":{"domain":[0,800],"nice":false},"axis":null},"text":{"field":"s"}}},
  {"data":{"values":[{"s":"TV7"}]},"mark":{"type":"text","fontSize":10,"baseline":"middle","align":"center"},"encoding":{"x":{"datum":9.75,"type":"quantitative","scale":{"domain":[0,19.5],"nice":false},"title":"Time (hr)"},"y":{"datum":895,"type":"quantitative","scale":{"domain":[0,800],"nice":false},"axis":null},"text":{"field":"s"}}}
 ]},
 {"data":{"name":"d"},"transform":[{"filter":"datum.p=='TV7'"}],"layer":[
  {"mark":{"type":"line","stroke":"#000","strokeWidth":1},"encoding":{"x":{"field":"t","type":"quantitative","scale":{"domain":[0,19.5],"nice":false},"title":"Time (hr)","axis":{"values":[0,3,6,9,12,15,18],"tickCount":20,"grid":true,"labelOverlap":false}},"y":{"field":"o","type":"quantitative","scale":{"domain":[0.1,0.6],"nice":false,"zero":false},"title":"OD600","axis":{"orient":"right","values":[0.1,0.2,0.3,0.4,0.5,0.6],"tickCount":20,"format":".1f","grid":false,"domain":true,"domainColor":"#d9d9d9","ticks":true,"tickColor":"#bfbfbf","tickSize":3,"titleAngle":270,"titleBaseline":"top","labelOverlap":false}}}},
  {"mark":{"type":"point","filled":true,"size":16,"stroke":"#404040","strokeWidth":0.7,"opacity":1},"encoding":{"x":{"field":"t","type":"quantitative","scale":{"domain":[0,19.5],"nice":false},"title":"Time (hr)"},"y":{"field":"o","type":"quantitative","scale":{"domain":[0.1,0.6],"nice":false,"zero":false},"title":"OD600"},"fill":{"datum":"Growth curve","type":"nominal","scale":{"domain":["PlrgA activity","Growth curve"],"range":["#23a24d","#ffffff"]},"legend":{"title":null,"orient":"none","legendX":-37,"legendY":132,"direction":"horizontal","symbolType":"M-1,0L-0.3,0M0.3,0L1,0M-0.3,0A0.3,0.3,0,1,1,0.3,0A0.3,0.3,0,1,1,-0.3,0Z","symbolSize":150,"symbolStrokeColor":"#000","symbolStrokeWidth":1,"labelFontSize":7.5,"columnPadding":4,"labelOffset":1}}}}
 ]},
 {"data":{"name":"d"},"transform":[{"filter":"datum.p=='TV7'"}],"layer":[
  {"mark":{"type":"line","stroke":"#000","strokeWidth":1.2},"encoding":{"x":{"field":"t","type":"quantitative","scale":{"domain":[0,19.5],"nice":false},"title":"Time (hr)"},"y":{"field":"f","type":"quantitative","scale":{"domain":[0,800],"nice":false},"title":"Fluorescence intensity","axis":{"values":[0,100,200,300,400,500,600,700,800],"tickCount":20,"grid":true,"labelOverlap":false}}}},
  {"mark":{"type":"point","filled":true,"size":18,"stroke":"#1b5e2f","strokeWidth":0.6,"opacity":1},"encoding":{"x":{"field":"t","type":"quantitative","scale":{"domain":[0,19.5],"nice":false},"title":"Time (hr)"},"y":{"field":"f","type":"quantitative","scale":{"domain":[0,800],"nice":false},"title":"Fluorescence intensity"},"fill":{"datum":"PlrgA activity","type":"nominal","scale":{"domain":["PlrgA activity","Growth curve"],"range":["#23a24d","#ffffff"]},"legend":{"title":null,"orient":"none","legendX":-37,"legendY":132,"direction":"horizontal","symbolType":"M-1,0L-0.3,0M0.3,0L1,0M-0.3,0A0.3,0.3,0,1,1,0.3,0A0.3,0.3,0,1,1,-0.3,0Z","symbolSize":150,"symbolStrokeColor":"#000","symbolStrokeWidth":1,"labelFontSize":7.5,"columnPadding":4,"labelOffset":1}}}}
 ]}
],"resolve":{"scale":{"y":"independent"}}},
{"width":72,"height":98,"layer":[
 {"layer":[
  {"data":{"name":"box"},"transform":[{"filter":"datum.p=='TV11'"}],"mark":{"type":"rect","fill":"#a9a9a9","opacity":0.45},"encoding":{"x":{"field":"x1","type":"quantitative","scale":{"domain":[0,19.5],"nice":false},"title":"Time (hr)"},"x2":{"field":"x2"},"y":{"field":"y1","type":"quantitative","scale":{"domain":[0,800],"nice":false},"axis":null},"y2":{"field":"y2"}}},
  {"data":{"name":"ln"},"transform":[{"filter":"datum.p=='TV11'"}],"mark":{"type":"rule","stroke":"#c6c6c6","strokeWidth":0.8},"encoding":{"x":{"field":"x1","type":"quantitative","scale":{"domain":[0,19.5],"nice":false},"title":"Time (hr)"},"x2":{"field":"x2"},"y":{"field":"y","type":"quantitative","scale":{"domain":[0,800],"nice":false},"axis":null}}},
  {"data":{"values":[{"s":"(g)"}]},"mark":{"type":"text","fontSize":12,"baseline":"middle","align":"center"},"encoding":{"x":{"datum":-6.2,"type":"quantitative","scale":{"domain":[0,19.5],"nice":false},"title":"Time (hr)"},"y":{"datum":995,"type":"quantitative","scale":{"domain":[0,800],"nice":false},"axis":null},"text":{"field":"s"}}},
  {"data":{"values":[{"s":"TV11"}]},"mark":{"type":"text","fontSize":10,"baseline":"middle","align":"center"},"encoding":{"x":{"datum":9.75,"type":"quantitative","scale":{"domain":[0,19.5],"nice":false},"title":"Time (hr)"},"y":{"datum":895,"type":"quantitative","scale":{"domain":[0,800],"nice":false},"axis":null},"text":{"field":"s"}}}
 ]},
 {"data":{"name":"d"},"transform":[{"filter":"datum.p=='TV11'"}],"layer":[
  {"mark":{"type":"line","stroke":"#000","strokeWidth":1},"encoding":{"x":{"field":"t","type":"quantitative","scale":{"domain":[0,19.5],"nice":false},"title":"Time (hr)","axis":{"values":[0,3,6,9,12,15,18],"tickCount":20,"grid":true,"labelOverlap":false}},"y":{"field":"o","type":"quantitative","scale":{"domain":[0.1,0.6],"nice":false,"zero":false},"title":"OD600","axis":{"orient":"right","values":[0.1,0.2,0.3,0.4,0.5,0.6],"tickCount":20,"format":".1f","grid":false,"domain":true,"domainColor":"#d9d9d9","ticks":true,"tickColor":"#bfbfbf","tickSize":3,"titleAngle":270,"titleBaseline":"top","labelOverlap":false}}}},
  {"mark":{"type":"point","filled":true,"size":16,"stroke":"#404040","strokeWidth":0.7,"opacity":1},"encoding":{"x":{"field":"t","type":"quantitative","scale":{"domain":[0,19.5],"nice":false},"title":"Time (hr)"},"y":{"field":"o","type":"quantitative","scale":{"domain":[0.1,0.6],"nice":false,"zero":false},"title":"OD600"},"fill":{"datum":"Growth curve","type":"nominal","scale":{"domain":["PlrgA activity","Growth curve"],"range":["#23a24d","#ffffff"]},"legend":{"title":null,"orient":"none","legendX":-39,"legendY":132,"direction":"horizontal","symbolType":"M-1,0L-0.3,0M0.3,0L1,0M-0.3,0A0.3,0.3,0,1,1,0.3,0A0.3,0.3,0,1,1,-0.3,0Z","symbolSize":150,"symbolStrokeColor":"#000","symbolStrokeWidth":1,"labelFontSize":7.5,"columnPadding":4,"labelOffset":1}}}}
 ]},
 {"data":{"name":"d"},"transform":[{"filter":"datum.p=='TV11'"}],"layer":[
  {"mark":{"type":"line","stroke":"#000","strokeWidth":1.2},"encoding":{"x":{"field":"t","type":"quantitative","scale":{"domain":[0,19.5],"nice":false},"title":"Time (hr)"},"y":{"field":"f","type":"quantitative","scale":{"domain":[0,800],"nice":false},"title":"Fluorescence intensity","axis":{"values":[0,100,200,300,400,500,600,700,800],"tickCount":20,"grid":true,"labelOverlap":false}}}},
  {"mark":{"type":"point","filled":true,"size":18,"stroke":"#1b5e2f","strokeWidth":0.6,"opacity":1},"encoding":{"x":{"field":"t","type":"quantitative","scale":{"domain":[0,19.5],"nice":false},"title":"Time (hr)"},"y":{"field":"f","type":"quantitative","scale":{"domain":[0,800],"nice":false},"title":"Fluorescence intensity"},"fill":{"datum":"PlrgA activity","type":"nominal","scale":{"domain":["PlrgA activity","Growth curve"],"range":["#23a24d","#ffffff"]},"legend":{"title":null,"orient":"none","legendX":-39,"legendY":132,"direction":"horizontal","symbolType":"M-1,0L-0.3,0M0.3,0L1,0M-0.3,0A0.3,0.3,0,1,1,0.3,0A0.3,0.3,0,1,1,-0.3,0Z","symbolSize":150,"symbolStrokeColor":"#000","symbolStrokeWidth":1,"labelFontSize":7.5,"columnPadding":4,"labelOffset":1}}}}
 ]}
],"resolve":{"scale":{"y":"independent"}}}
],"spacing":65,"bounds":"flush","resolve":{"scale":{"fill":"independent"},"legend":{"fill":"independent"}}}
],
"spacing": 21,
"center": true,
"resolve":{"scale":{"fill":"independent"},"legend":{"fill":"independent"}},
"config": {
"font": "Liberation Serif",
"view": {"stroke": null},
"axis": {"labelFontSize": 8.5, "titleFontSize": 8.5, "titleFontWeight": "normal", "labelColor": "#000", "titleColor": "#000", "gridColor": "#d9d9d9", "gridWidth": 0.7, "domain": false, "ticks": false, "labelPadding": 3, "titlePadding": 3, "labelOverlap": false},
"legend": {"labelColor": "#000", "labelFont": "Liberation Serif"},
"text": {"font": "Liberation Serif", "color": "#000"}
}
}
